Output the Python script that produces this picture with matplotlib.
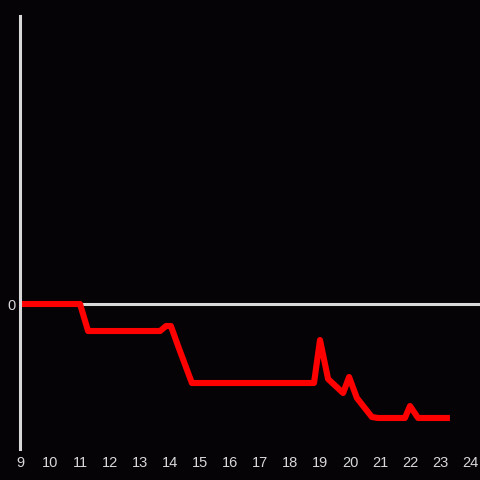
import matplotlib
matplotlib.use("Agg")
import matplotlib.pyplot as plt

# time of day (hours) and value (arbitrary units)
hours = [9.0, 11.0, 11.27, 13.67, 13.87, 14.03, 14.27, 14.73, 18.8, 19.0,
         19.27, 19.77, 19.97, 20.23, 20.73, 20.93, 21.83, 22.0, 22.27, 23.33]
values = [0, 0, -2.7, -2.7, -2.2, -2.2, -4.2, -7.9, -7.9, -3.6,
          -7.5, -8.9, -7.3, -9.4, -11.3, -11.4, -11.4, -10.2, -11.4, -11.4]
xticks = list(range(9, 25))

bg = "#050306"
fg = "#d8d8d8"

fig = plt.figure(figsize=(4.8, 4.8), dpi=100, facecolor=bg)
ax = fig.add_axes([20 / 480, 31 / 480, 460 / 480, 433 / 480], facecolor=bg)

ax.axhline(0, color=fg, lw=2.2, zorder=1)
ax.plot(hours, values, color="#ff0000", lw=4.4, solid_joinstyle="round",
        solid_capstyle="butt", zorder=2)

ax.set_xlim(9, 9 + 460 / 30)
ax.set_ylim(-14.5, 28.8)
ax.set_xticks(xticks)
ax.set_xticklabels([str(t) for t in xticks])
ax.set_yticks([0])
ax.set_yticklabels(["0"])
ax.tick_params(length=0, colors=fg, labelsize=10.5, pad=5)
ax.tick_params(axis="y", pad=3)
for lab in ax.get_xticklabels() + ax.get_yticklabels():
    lab.set_family("Liberation Sans")

for s in ["top", "right", "bottom"]:
    ax.spines[s].set_visible(False)
ax.spines["left"].set_color(fg)
ax.spines["left"].set_linewidth(2.2)

fig.savefig("out.png", dpi=100, facecolor=bg)
